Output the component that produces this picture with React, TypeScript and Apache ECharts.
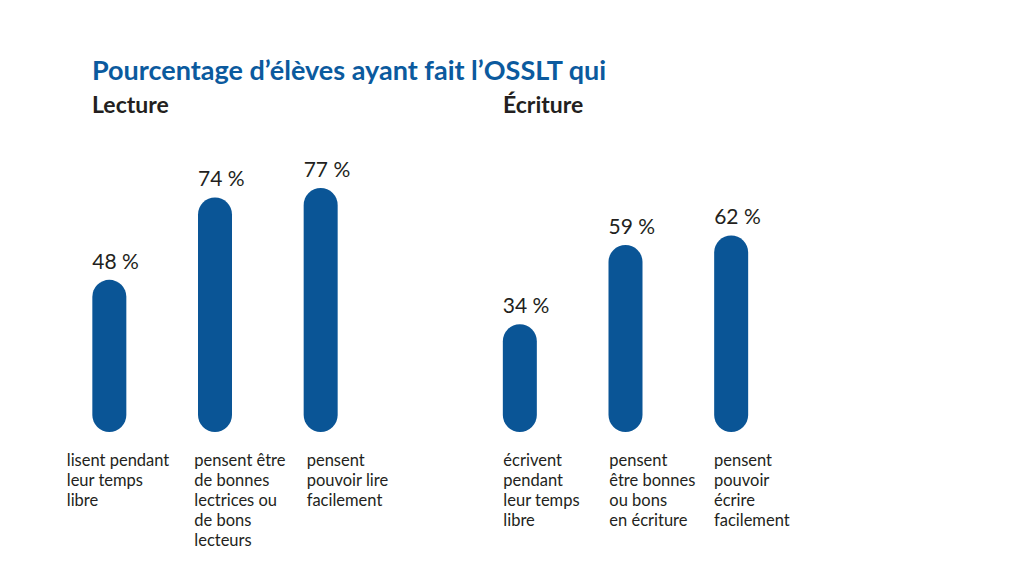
import React, { useEffect, useRef } from "react";
import * as echarts from "echarts";

const titleText = "Pourcentage d’élèves ayant fait l’OSSLT qui";
const groupTitles = ["Lecture", "Écriture"];

const lectureCategories = [
  "lisent pendant\nleur temps\nlibre",
  "pensent être\nde bonnes\nlectrices ou\nde bons\nlecteurs",
  "pensent\npouvoir lire\nfacilement",
];
const lectureValues = [48, 74, 77];

const ecritureCategories = [
  "écrivent\npendant\nleur temps\nlibre",
  "pensent\nêtre bonnes\nou bons\nen écriture",
  "pensent\npouvoir\nécrire\nfacilement",
];
const ecritureValues = [34, 59, 62];

const lectureLabelShift = [-42.6, -20.7, -14];
const ecritureLabelShift = [-16.5, -16.2, -17.2];

const BLUE = "#0a5596";
const TITLE_BLUE = "#0b5a9e";
const DARK = "#231f20";
const FONT = "Lato, 'Noto Sans', sans-serif";

function barSeries(idx: number, cats: string[], values: number[], shifts: number[]) {
  return [
    {
      type: "bar",
      xAxisIndex: idx,
      yAxisIndex: idx,
      barWidth: 34,
      barGap: "-100%",
      data: values,
      itemStyle: { color: BLUE, borderRadius: 17 },
      label: {
        show: true,
        position: "top",
        distance: 9,
        align: "left",
        offset: [-17, 0],
        formatter: "{c} %",
        fontSize: 21,
        fontFamily: FONT,
        color: DARK,
      },
      silent: true,
    },
    {
      type: "bar",
      xAxisIndex: idx,
      yAxisIndex: idx,
      barWidth: 34,
      barGap: "-100%",
      silent: true,
      data: values.map((v, i) => ({
        value: v,
        label: { offset: [shifts[i], 18] },
      })),
      itemStyle: { color: "rgba(0,0,0,0)" },
      label: {
        show: true,
        position: "bottom",
        distance: 0,
        align: "left",
        verticalAlign: "top",
        formatter: (p: any) => cats[p.dataIndex],
        fontSize: 16.5,
        lineHeight: 20,
        fontFamily: FONT,
        color: DARK,
      },
    },
  ];
}

export default function App() {
  const ref = useRef<HTMLDivElement>(null);
  useEffect(() => {
    if (!ref.current) return;
    const chart = echarts.init(ref.current, undefined, { renderer: "svg" });
    chart.setOption({
      animation: false,
      backgroundColor: "#ffffff",
      title: [
        {
          text: titleText,
          left: 87,
          top: 51,
          textStyle: { fontSize: 27, fontWeight: "bold", color: TITLE_BLUE, fontFamily: FONT },
        },
        {
          text: groupTitles[0],
          left: 87,
          top: 87,
          textStyle: { fontSize: 23, fontWeight: "bold", color: DARK, fontFamily: FONT },
        },
        {
          text: groupTitles[1],
          left: 498,
          top: 87,
          textStyle: { fontSize: 23, fontWeight: "bold", color: DARK, fontFamily: FONT },
        },
      ],
      grid: [
        { left: 56.5, width: 317, top: 115, height: 317 },
        { left: 467, width: 317, top: 115, height: 317 },
      ],
      xAxis: [
        { type: "category", gridIndex: 0, data: lectureCategories, show: false },
        { type: "category", gridIndex: 1, data: ecritureCategories, show: false },
      ],
      yAxis: [
        { type: "value", gridIndex: 0, min: 0, max: 100, show: false },
        { type: "value", gridIndex: 1, min: 0, max: 100, show: false },
      ],
      series: [
        ...barSeries(0, lectureCategories, lectureValues, lectureLabelShift),
        ...barSeries(1, ecritureCategories, ecritureValues, ecritureLabelShift),
      ],
    });
    return () => chart.dispose();
  }, []);
  return (
    <div
      ref={ref}
      style={{ position: "fixed", left: 0, top: 0, width: 1024, height: 576, background: "#fff" }}
    />
  );
}
